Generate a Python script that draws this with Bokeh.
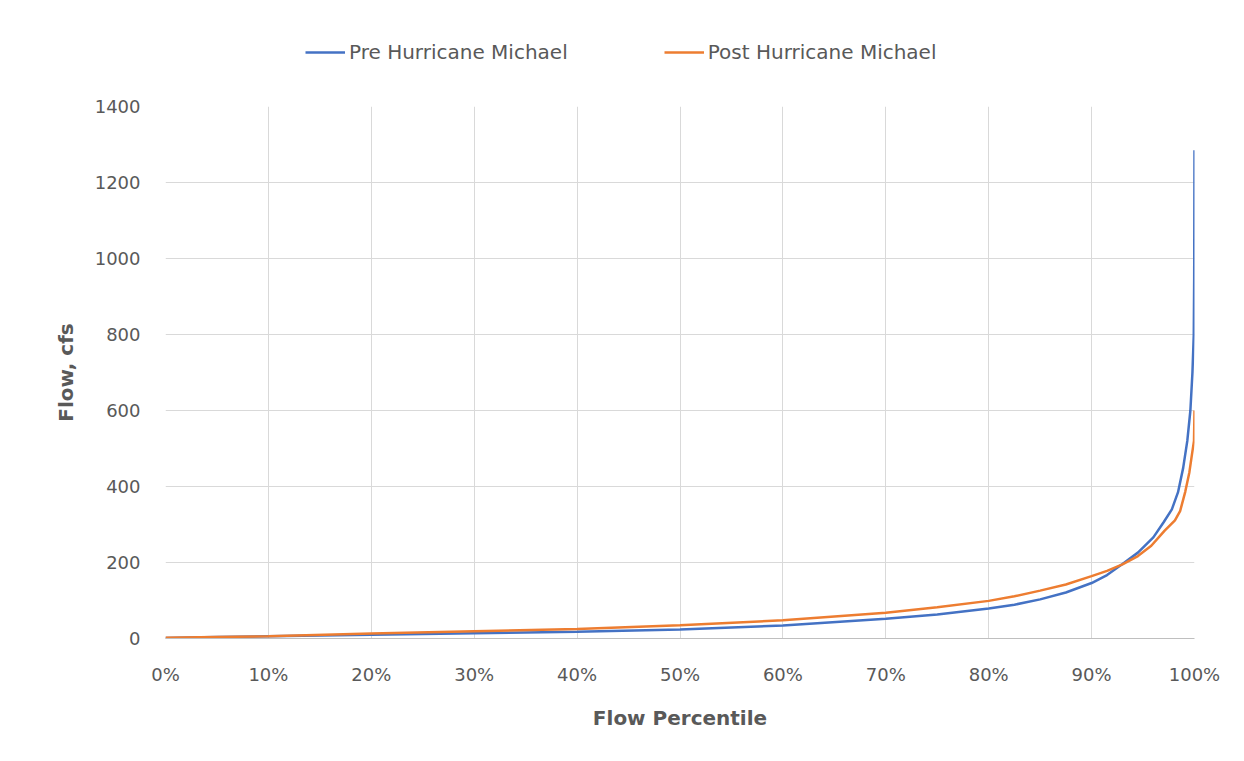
from bokeh.plotting import figure
from bokeh.layouts import column
from bokeh.models import Legend, LegendItem, PrintfTickFormatter, FixedTicker, Range1d
from bokeh.embed import file_html
from bokeh.resources import INLINE

# Flow duration data (percentile %, flow cfs)
pre_pct = [0, 5, 10, 20, 30, 40, 50, 60, 70, 75, 80, 82.5, 85, 87.5, 90, 91.5, 93, 94.5,
           96, 97, 97.8, 98.4, 98.9, 99.3, 99.6, 99.8, 99.93, 99.97, 100]
pre_flow = [1, 4, 6, 10, 14, 18, 24, 34, 52, 63, 79, 89, 103, 121, 146, 167, 196, 226,
            266, 306, 340, 385, 449, 520, 600, 700, 800, 950, 1285]

post_pct = [0, 5, 10, 20, 30, 40, 50, 60, 70, 75, 80, 82.5, 85, 87.5, 90, 91.5, 93, 94.5,
            95.8, 97.1, 98.1, 98.6, 99.1, 99.5, 99.75, 99.95, 100]
post_flow = [2, 4, 6, 13, 19, 25, 35, 48, 68, 82, 99, 111, 126, 142, 164, 178, 195, 217,
             244, 284, 311, 335, 386, 437, 484, 520, 600]

x_ticks = [0, 10, 20, 30, 40, 50, 60, 70, 80, 90, 100]
y_ticks = [0, 200, 400, 600, 800, 1000, 1200, 1400]

series_names = ["Pre Hurricane Michael", "Post Hurricane Michael"]
colors = ["#4472C4", "#ED7D31"]

FONT = "DejaVu Sans"
TXT = "#595959"
NAN = float("nan")

# ---- legend strip (top) ----
lg = figure(width=1244, height=96, output_backend="svg", toolbar_location=None,
            x_axis_type=None, y_axis_type=None,
            x_range=Range1d(0, 1), y_range=Range1d(0, 1),
            min_border_left=0, min_border_right=0, min_border_top=0, min_border_bottom=0)
lg.grid.visible = False
lg.outline_line_color = None
lg.border_fill_color = "white"
l1 = lg.line([NAN, NAN], [NAN, NAN], line_color=colors[0], line_width=2.5)
l2 = lg.line([NAN, NAN], [NAN, NAN], line_color=colors[1], line_width=2.5)
legend = Legend(items=[LegendItem(label=series_names[0], renderers=[l1]),
                       LegendItem(label=series_names[1], renderers=[l2])],
                orientation="horizontal", location=(140, 32),
                label_text_font=FONT, label_text_font_size="20px", label_text_color=TXT,
                glyph_width=40, spacing=96, label_standoff=4,
                border_line_color=None, background_fill_alpha=0)
lg.add_layout(legend, "center")

# ---- main chart ----
p = figure(width=1244, height=665, output_backend="svg", toolbar_location=None,
           x_range=Range1d(0, 100), y_range=Range1d(0, 1400),
           min_border_left=165, min_border_right=50, min_border_top=10, min_border_bottom=123)
p.outline_line_color = None
p.background_fill_color = "white"
p.border_fill_color = "white"

p.line(pre_pct, pre_flow, line_color=colors[0], line_width=2.5)
p.line(post_pct, post_flow, line_color=colors[1], line_width=2.5)

for ax in (p.xaxis[0], p.yaxis[0]):
    ax.major_tick_line_color = None
    ax.minor_tick_line_color = None
    ax.major_label_text_font = FONT
    ax.major_label_text_font_size = "18px"
    ax.major_label_text_color = TXT
    ax.axis_label_text_font = FONT
    ax.axis_label_text_font_size = "20px"
    ax.axis_label_text_font_style = "bold"
    ax.axis_label_text_color = TXT

p.xaxis.ticker = FixedTicker(ticks=x_ticks)
p.xaxis.formatter = PrintfTickFormatter(format="%d%%")
p.xaxis.axis_line_color = "#bfbfbf"
p.xaxis.major_label_standoff = 19
p.xaxis.axis_label = "Flow Percentile"
p.xaxis.axis_label_standoff = 18

p.yaxis.ticker = FixedTicker(ticks=y_ticks)
p.yaxis.axis_line_color = None
p.yaxis.major_label_standoff = 19
p.yaxis.axis_label = "Flow, cfs"
p.yaxis.axis_label_standoff = 14

p.xgrid.ticker = FixedTicker(ticks=x_ticks)
p.ygrid.ticker = FixedTicker(ticks=y_ticks)
p.xgrid.grid_line_color = "#d9d9d9"
p.ygrid.grid_line_color = "#d9d9d9"

layout = column(lg, p, spacing=0)
open("out.html", "w").write(file_html(layout, INLINE))
